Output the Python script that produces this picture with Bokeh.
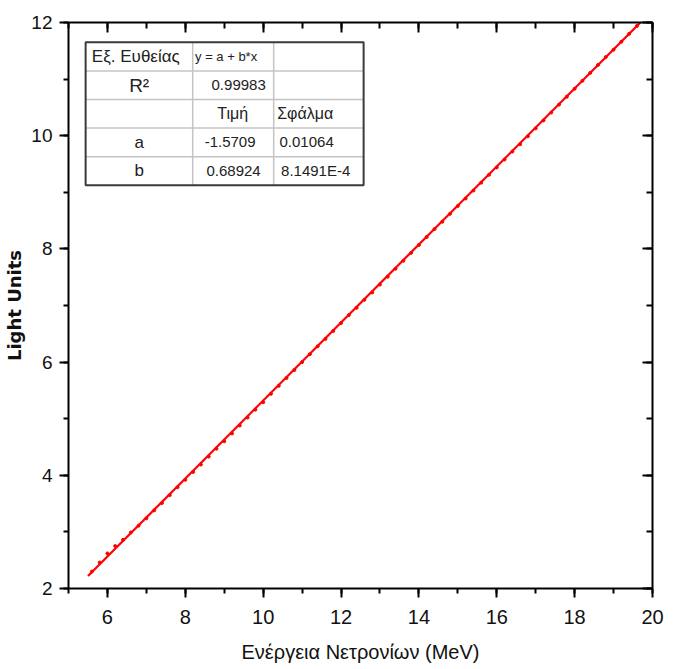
from bokeh.plotting import figure
from bokeh.models import Range1d, LinearAxis, SingleIntervalTicker, CustomJSTickFormatter, ColumnDataSource
from bokeh.core.properties import value
from bokeh.embed import file_html
from bokeh.resources import INLINE

# ---- data ----
energy = [5.6, 5.8, 6.0, 6.2, 6.4, 6.6, 6.8, 7.0, 7.2, 7.4, 7.6, 7.8, 8.0, 8.2, 8.4, 8.6, 8.8,
          9.0, 9.2, 9.4, 9.6, 9.8, 10.0, 10.2, 10.4, 10.6, 10.8, 11.0, 11.2, 11.4, 11.6, 11.8,
          12.0, 12.2, 12.4, 12.6, 12.8, 13.0, 13.2, 13.4, 13.6, 13.8, 14.0, 14.2, 14.4, 14.6,
          14.8, 15.0, 15.2, 15.4, 15.6, 15.8, 16.0, 16.2, 16.4, 16.6, 16.8, 17.0, 17.2, 17.4,
          17.6, 17.8, 18.0, 18.2, 18.4, 18.6, 18.8, 19.0, 19.2, 19.4, 19.6]
light = [2.30, 2.46, 2.62, 2.75, 2.86, 2.99, 3.11, 3.24, 3.38, 3.51, 3.65, 3.79, 3.92, 4.06,
         4.19, 4.33, 4.47, 4.60, 4.74, 4.88, 5.02, 5.16, 5.29, 5.44, 5.58, 5.72, 5.86, 6.00,
         6.14, 6.28, 6.41, 6.55, 6.69, 6.83, 6.96, 7.10, 7.23, 7.37, 7.51, 7.65, 7.79, 7.93,
         8.07, 8.21, 8.35, 8.48, 8.62, 8.76, 8.89, 9.03, 9.17, 9.31, 9.44, 9.58, 9.72, 9.85,
         9.99, 10.13, 10.27, 10.41, 10.55, 10.69, 10.83, 10.97, 11.11, 11.25, 11.39, 11.52,
         11.66, 11.80, 11.94]
fit_x = [5.5, 19.69]
fit_y = [2.22, 12.0]

table_col0 = ["Εξ. Ευθείας", "R²", "", "a", "b"]
table_col1 = ["y = a + b*x", "0.99983", "Τιμή", "-1.5709", "0.68924"]
table_col2 = ["", "", "Σφάλμα", "0.01064", "8.1491E-4"]

FONT = "Liberation Sans"

p = figure(width=665, height=668, output_backend="svg", toolbar_location=None,
           x_range=Range1d(5, 20), y_range=Range1d(2, 12),
           min_border_left=68, min_border_right=13, min_border_top=22, min_border_bottom=80,
           background_fill_color="white", border_fill_color="white")
p.outline_line_color = None
p.xgrid.visible = False
p.ygrid.visible = False

p.xaxis.ticker = SingleIntervalTicker(interval=2, num_minor_ticks=2)
p.yaxis.ticker = SingleIntervalTicker(interval=2, num_minor_ticks=2)

for ax in (p.xaxis[0], p.yaxis[0]):
    ax.axis_line_width = 2
    ax.major_tick_line_width = 2
    ax.minor_tick_line_width = 2
    ax.major_tick_out = 9
    ax.major_tick_in = 0
    ax.minor_tick_out = 5
    ax.minor_tick_in = 0
    ax.major_label_text_font = FONT
    ax.major_label_text_color = "#111111"

p.xaxis.major_label_text_font_size = "20px"
p.yaxis.major_label_text_font_size = "19px"

p.xaxis.axis_label = "Ενέργεια Νετρονίων (MeV)"
p.xaxis.axis_label_text_font = FONT
p.xaxis.axis_label_text_font_size = "20px"
p.xaxis.axis_label_text_font_style = "normal"
p.xaxis.axis_label_text_color = "#111111"
p.xaxis.major_label_standoff = 12
p.xaxis.axis_label_standoff = 14

p.yaxis.axis_label = "Light Units"
p.yaxis.axis_label_text_font = "DejaVu Sans"
p.yaxis.axis_label_text_font_size = "18px"
p.yaxis.axis_label_text_font_style = "bold"
p.yaxis.axis_label_text_color = "#111111"
p.yaxis.major_label_standoff = 7
p.yaxis.axis_label_standoff = 3

blank = CustomJSTickFormatter(code="return ''")
top = LinearAxis(ticker=SingleIntervalTicker(interval=2, num_minor_ticks=2), formatter=blank)
right = LinearAxis(ticker=SingleIntervalTicker(interval=2, num_minor_ticks=2), formatter=blank)
for ax in (top, right):
    ax.axis_line_width = 2
    ax.major_tick_line_width = 2
    ax.minor_tick_line_width = 2
    ax.major_tick_in = 10
    ax.major_tick_out = 0
    ax.minor_tick_in = 6
    ax.minor_tick_out = 0
    ax.major_label_standoff = 0
    ax.major_label_text_font_size = "0px"
p.add_layout(top, "above")
p.add_layout(right, "right")

# data and fit
p.scatter(energy, light, size=3, color="red", marker="circle")
p.line(fit_x, fit_y, line_color="red", line_width=2.2)

# ---- table (in data coordinates) ----
tl, c1, c2, tr = 5.44, 8.19, 10.27, 12.58
ttop, rh = 11.65, 0.505
tbot = ttop - 5 * rh
p.quad(left=[tl], right=[tr], top=[ttop], bottom=[tbot], fill_color="white",
       line_color=None)
p.segment(x0=[c1, c2], y0=[ttop, ttop], x1=[c1, c2], y1=[tbot, tbot],
          line_color="#c4c4c4", line_width=1.5)
ys = [ttop - rh * i for i in range(1, 5)]
p.segment(x0=[tl] * 4, y0=ys, x1=[tr] * 4, y1=ys, line_color="#c4c4c4", line_width=1.5)
p.quad(left=[tl], right=[tr], top=[ttop], bottom=[tbot], fill_color=None,
       line_color="#3a3a3a", line_width=2)

row_y = [ttop - rh * (i + 0.5) for i in range(5)]
x0s = [5.6, (tl + c1) / 2, (tl + c1) / 2, (tl + c1) / 2, (tl + c1) / 2]
al0 = ["left", "center", "center", "center", "center"]
sz0 = ["17px", "19px", "17px", "17px", "17px"]
src0 = ColumnDataSource(dict(x=x0s, y=row_y, t=table_col0, a=al0, s=sz0))
p.text(x="x", y="y", text="t", text_align="a", text_font_size="s", source=src0,
       text_baseline="middle", text_font=value(FONT), text_color="#222222")
x1s = [8.25, 9.37, 9.22, 9.15, 9.24]
al1 = ["left", "center", "center", "center", "center"]
sz1 = ["13px", "15px", "16px", "15px", "15px"]
src1 = ColumnDataSource(dict(x=x1s, y=row_y, t=table_col1, a=al1, s=sz1))
p.text(x="x", y="y", text="t", text_align="a", text_font_size="s", source=src1,
       text_baseline="middle", text_font=value(FONT), text_color="#222222")
x2s = [10.39, 10.39, 10.36, 10.42, 10.46]
sz2 = ["15px", "15px", "16px", "15px", "15px"]
src2 = ColumnDataSource(dict(x=x2s, y=row_y, t=table_col2, s=sz2))
p.text(x="x", y="y", text="t", text_align="left", text_font_size="s", source=src2,
       text_baseline="middle", text_font=value(FONT), text_color="#222222")

open("out.html", "w").write(file_html(p, INLINE))
